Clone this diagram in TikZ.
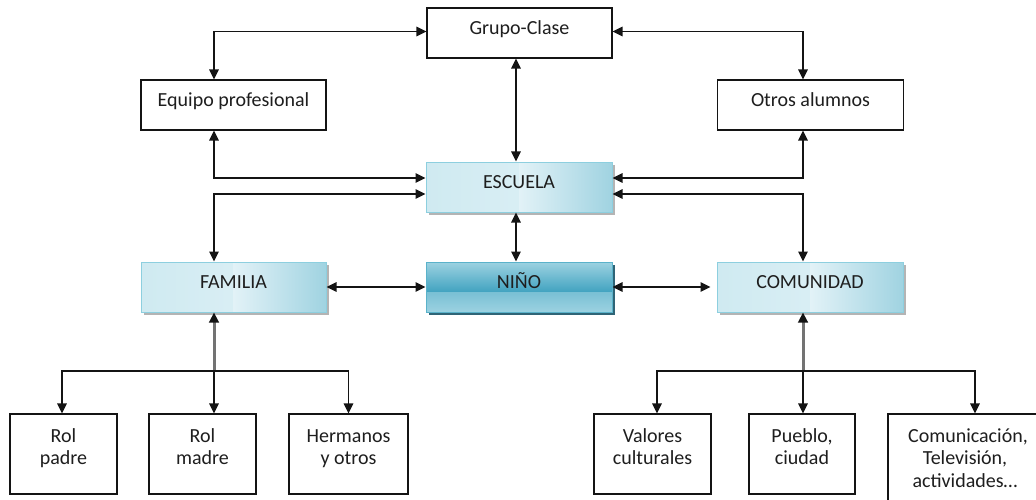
\documentclass[tikz,border=0pt]{standalone}
\usepackage{fontspec}
\setmainfont{Carlito}
\usetikzlibrary{arrows.meta}
\definecolor{txt}{HTML}{1E1E1E}
\definecolor{ln}{HTML}{141414}
\definecolor{lbA}{HTML}{A0D3E1}
\definecolor{lbB}{HTML}{E2F2F7}
\definecolor{lbC}{HTML}{CFEAF1}
\definecolor{lbBorder}{HTML}{8DCFDF}
\definecolor{dbA}{HTML}{9CD2E1}
\definecolor{dbB}{HTML}{44A4C1}
\definecolor{dbBorder}{HTML}{5AB2CA}
\definecolor{dbShadow}{HTML}{2F6476}
\definecolor{lshadow}{HTML}{B4B4B4}
\tikzset{
  plainbox/.style={draw=ln, line width=1.3pt, fill=white, inner sep=0pt},
  lightbox/.style={draw=lbBorder, line width=1pt, inner sep=0pt, fill=lbB,
    preaction={fill=lshadow, transform canvas={shift={(3pt,-3pt)}}},
    path picture={
      \shade[left color=lbC, right color=lbB]
        (path picture bounding box.south west) rectangle ([xshift=1pt]path picture bounding box.north);
      \shade[left color=lbB, right color=lbA]
        (path picture bounding box.south) rectangle (path picture bounding box.north east);
    }},
  darkbox/.style={draw=dbBorder, line width=1pt, inner sep=0pt, fill=dbB,
    preaction={fill=dbShadow, transform canvas={shift={(3pt,-3pt)}}},
    path picture={
      \shade[top color=dbB, bottom color=dbA]
        ([yshift=-3pt]path picture bounding box.west) rectangle (path picture bounding box.south east);
      \shade[top color=dbA, bottom color=dbB]
        (path picture bounding box.north west) rectangle ([yshift=-4pt]path picture bounding box.east);
    }},
  lbl/.style={anchor=base, inner sep=0pt, font=\fontsize{20}{22.5}\selectfont, text=txt},
  conn/.style={draw=ln, line width=1.6pt, >={Triangle[length=10pt,width=9.5pt]}},
  grayconn/.style={draw=black!55, line width=3pt},
}
\begin{document}
\begin{tikzpicture}[x=1pt,y=-1pt]
\useasboundingbox (0,0) rectangle (1036,500);
\clip (0,0) rectangle (1036,500);
\fill[white] (0,0) rectangle (1036,500);

% x positions of the vertical connectors
\coordinate (Lx) at (214,0);
\coordinate (Rx) at (803,0);
\coordinate (Mx) at (516,0);

% boxes
\node[plainbox, minimum width=185pt, minimum height=50pt] (GC) at (519.5,33) {};
\node[plainbox, minimum width=185pt, minimum height=50pt] (EP) at (233.5,105) {};
\node[plainbox, minimum width=186pt, minimum height=50pt] (OA) at (810.5,105) {};
\node[lightbox, minimum width=186pt, minimum height=50pt] (ES) at (519,187) {};
\node[lightbox, minimum width=185pt, minimum height=50pt] (FA) at (233.5,287) {};
\node[darkbox, minimum width=186pt, minimum height=50pt] (NI) at (519,287) {};
\node[lightbox, minimum width=186pt, minimum height=50pt] (CO) at (810,287) {};

\node[plainbox, minimum width=107pt, minimum height=80pt] (RP) at (63.5,454) {};
\node[plainbox, minimum width=107pt, minimum height=80pt] (RM) at (202.5,454) {};
\node[plainbox, minimum width=119pt, minimum height=80pt] (HO) at (348.5,454) {};
\node[plainbox, minimum width=117pt, minimum height=80pt] (VC) at (652.5,454) {};
\node[plainbox, minimum width=106pt, minimum height=80pt] (PC) at (802,454) {};
\node[plainbox, minimum width=154pt, minimum height=92pt] (CT) at (965,460) {};

% labels
\node[lbl] (GCt) at (519.5,35) {Grupo-Clase};
\node[lbl] (EPt) at (233.5,107) {Equipo profesional};
\node[lbl] (OAt) at (810.5,107) {Otros alumnos};
\node[lbl] (ESt) at (519,188.8) {ESCUELA};
\node[lbl] (FAt) at (233.5,288.8) {FAMILIA};
\node[lbl] (NIt) at (519,288.8) {NIÑO};
\node[lbl] (COt) at (810,288.8) {COMUNIDAD};
\node[lbl] (RPt) at (63.5,442) {\parbox[t]{4cm}{\centering Rol\\padre}};
\node[lbl] (RMt) at (202.5,442) {\parbox[t]{4cm}{\centering Rol\\madre}};
\node[lbl] (HOt) at (348.5,442) {\parbox[t]{4cm}{\centering Hermanos\\y otros}};
\node[lbl] (VCt) at (652.5,442) {\parbox[t]{4cm}{\centering Valores\\culturales}};
\node[lbl] (PCt) at (802,442) {\parbox[t]{4cm}{\centering Pueblo,\\ciudad}};
\node[lbl] (CTt) at (965,442) {\parbox[t]{4cm}{\centering Comunicación,\\Televisión,\\actividades\dots}};

% upper connectors
\draw[conn,<->] ([yshift=1.5pt]GC.west) -| (EP.north -| Lx);
\draw[conn,<->] ([yshift=1.5pt]GC.east) -| (OA.north -| Rx);
\draw[conn,<->] (GC.south -| Mx) -- (ES.north -| Mx);
\draw[conn,<->] (EP.south -| Lx) |- ([yshift=9pt]ES.west);
\draw[conn,<->] ([yshift=-7pt]ES.west) -| (FA.north -| Lx);
\draw[conn,<->] (OA.south -| Rx) |- ([yshift=9pt]ES.east);
\draw[conn,<->] ([yshift=-7pt]ES.east) -| (CO.north -| Rx);
\draw[conn,<->] (ES.south -| Mx) -- (NI.north -| Mx);
\draw[conn,<->] (FA.east) -- (NI.west);
\draw[conn,<->] (NI.east) -- ([xshift=-6pt]CO.west);

% family branch
\coordinate (FB) at (214,371);
\draw[grayconn, {Triangle[length=10pt,width=9.5pt,color=ln]}-] (FA.south -| FB) -- (FB);
\draw[conn,->] (FB) -| ([xshift=-1.5pt]RP.north);
\draw[conn,->] (FB) -- (RM.north -| FB);
\draw[conn,->] (FB) -| (HO.north);

% community branch
\coordinate (CB) at (803,371);
\draw[grayconn, {Triangle[length=10pt,width=9.5pt,color=ln]}-] (CO.south -| CB) -- (CB);
\draw[conn,->] (CB) -| ([xshift=4.5pt]VC.north);
\draw[conn,->] (CB) -- (PC.north -| CB);
\draw[conn,->] (CB) -| ([xshift=10pt]CT.north);
\end{tikzpicture}
\end{document}
